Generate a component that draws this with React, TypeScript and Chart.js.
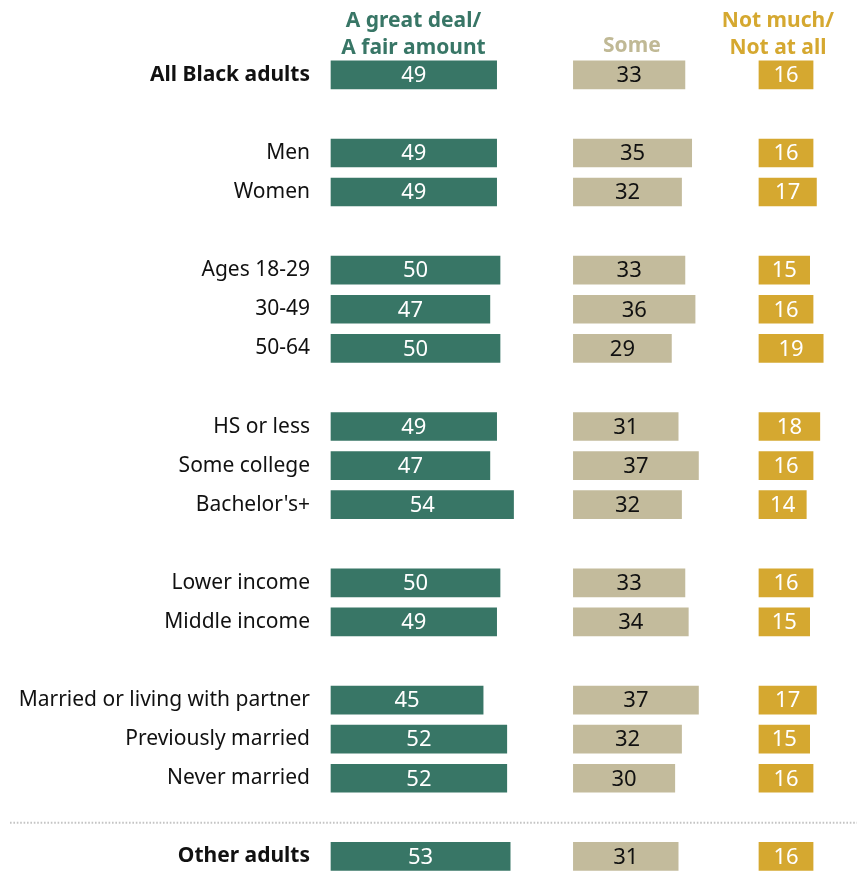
import React, { useEffect, useRef } from "react";
import { Chart, registerables } from "chart.js";

Chart.register(...registerables);

const categories: string[] = [
  "All Black adults", "",
  "Men", "Women", "",
  "Ages 18-29", "30-49", "50-64", "",
  "HS or less", "Some college", "Bachelor's+", "",
  "Lower income", "Middle income", "",
  "Married or living with partner", "Previously married", "Never married", "",
  "Other adults",
];
const boldRows: string[] = ["All Black adults", "Other adults"];

const greatDeal: (number | null)[] = [49, null, 49, 49, null, 50, 47, 50, null, 49, 47, 54, null, 50, 49, null, 45, 52, 52, null, 53];
const some: (number | null)[] = [33, null, 35, 32, null, 33, 36, 29, null, 31, 37, 32, null, 33, 34, null, 37, 32, 30, null, 31];
const notMuch: (number | null)[] = [16, null, 16, 17, null, 15, 16, 19, null, 18, 16, 14, null, 16, 15, null, 17, 15, 16, null, 16];

const seriesNames: string[][] = [["A great deal/", "A fair amount"], ["Some"], ["Not much/", "Not at all"]];

const GREEN = "#387666";
const TAN = "#c3bb9c";
const GOLD = "#d5a830";
const TAN_TEXT = "#c0b995";

const SOME_START = 71.7;
const GOLD_START = 126.6;
const X_MAX = 155.6;
const HEADER_CENTERS = [24.4, 89, 132.2];

const FONT = "'Noto Sans', sans-serif";

const overlayPlugin = {
  id: "overlay",
  afterDatasetsDraw(chart: any) {
    const ctx = chart.ctx as CanvasRenderingContext2D;
    const xs = chart.scales.x;
    const ys = chart.scales.y;
    ctx.save();
    // values inside bars
    const textColors = ["#ffffff", "#111111", "#ffffff"];
    chart.data.datasets.forEach((ds: any, di: number) => {
      const meta = chart.getDatasetMeta(di);
      meta.data.forEach((bar: any, i: number) => {
        const raw = ds.data[i];
        if (!raw) return;
        const v = raw[1] - raw[0];
        const cx = (bar.x + bar.base) / 2;
        ctx.font = `22px ${FONT}`;
        ctx.fillStyle = textColors[di];
        ctx.textAlign = "center";
        ctx.textBaseline = "middle";
        ctx.fillText(String(Math.round(v)), cx, bar.y + 1);
      });
    });
    // headers
    const headerColors = [GREEN, TAN_TEXT, GOLD];
    ctx.font = `bold 21px ${FONT}`;
    ctx.textAlign = "center";
    ctx.textBaseline = "alphabetic";
    seriesNames.forEach((lines, k) => {
      const cx = xs.getPixelForValue(HEADER_CENTERS[k]);
      ctx.fillStyle = headerColors[k];
      if (lines.length === 2) {
        ctx.fillText(lines[0], cx, 27);
        ctx.fillText(lines[1], cx, 54);
      } else {
        ctx.fillText(lines[0], cx, 52);
      }
    });
    // dotted separator
    const yy = ys.getPixelForValue(19) + 5.5;
    ctx.strokeStyle = "#c4c4c4";
    ctx.lineWidth = 2;
    ctx.setLineDash([1.6, 1.8]);
    ctx.beginPath();
    ctx.moveTo(10, yy);
    ctx.lineTo(857, yy);
    ctx.stroke();
    ctx.restore();
  },
};

export default function App() {
  const ref = useRef<HTMLCanvasElement>(null);
  useEffect(() => {
    if (!ref.current) return;
    const chart = new Chart(ref.current, {
      type: "bar",
      data: {
        labels: categories,
        datasets: [
          {
            label: "A great deal/A fair amount",
            data: greatDeal.map((v) => (v == null ? null : [0, v])) as any,
            backgroundColor: GREEN,
          },
          {
            label: "Some",
            data: some.map((v) => (v == null ? null : [SOME_START, SOME_START + v])) as any,
            backgroundColor: TAN,
          },
          {
            label: "Not much/Not at all",
            data: notMuch.map((v) => (v == null ? null : [GOLD_START, GOLD_START + v])) as any,
            backgroundColor: GOLD,
          },
        ].map((d) => ({ ...d, grouped: false, barThickness: 28, clip: false as any, borderSkipped: false })),
      },
      options: {
        indexAxis: "y",
        animation: false,
        responsive: false,
        maintainAspectRatio: false,
        layout: { padding: { top: 74.8, bottom: 15.6, left: 0, right: 0 } },
        plugins: { legend: { display: false }, tooltip: { enabled: false } },
        scales: {
          x: { display: false, min: 0, max: X_MAX },
          y: {
            offset: false,
            grid: { display: false, drawTicks: false },
            border: { display: false },
            afterFit: (scale: any) => {
              scale.width = 331;
              scale.paddingTop = 0;
              scale.paddingBottom = 0;
            },
            ticks: {
              autoSkip: false,
              padding: 21,
              color: "#111111",
              font: (c: any) => ({
                family: FONT,
                size: 21,
                weight: boldRows.includes(categories[c.index]) ? "bold" : "normal",
              }),
            },
          },
        },
      },
      plugins: [overlayPlugin],
    });
    return () => chart.destroy();
  }, []);
  return (
    <div style={{ position: "absolute", left: 0, top: 0, width: 857, height: 872, background: "#fff" }}>
      <canvas ref={ref} width={857} height={872} />
    </div>
  );
}
